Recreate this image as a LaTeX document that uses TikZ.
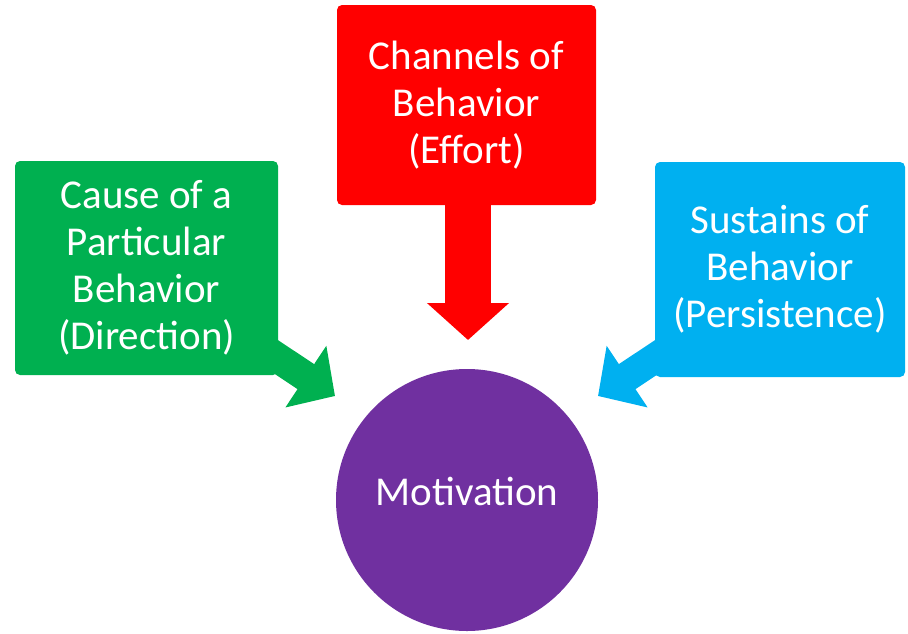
\documentclass[tikz,border=0pt]{standalone}
\usepackage{fontspec}
\setmainfont{Carlito}
\usetikzlibrary{arrows.meta}
\definecolor{ogreen}{HTML}{00B050}
\definecolor{ored}{HTML}{FF0000}
\definecolor{oblue}{HTML}{00B0F0}
\definecolor{opurple}{HTML}{7030A0}
\tikzset{
  callbox/.style={rounded corners=5pt, inner sep=0pt, text=white, align=center,
    font=\fontsize{41}{47}\selectfont},
  blockarrow/.style={line width=#1, line cap=butt},
}
\begin{document}
\begin{tikzpicture}[x=1pt,y=-1pt]
\useasboundingbox (0,0) rectangle (908,633);
% arrow coordinates
\coordinate (gs) at (256,343.5);
\coordinate (gt) at (335,396);
\coordinate (rs) at (468,200);
\coordinate (rt) at (468,340);
\coordinate (bs) at (677,343.5);
\coordinate (bt) at (598,396);
% block arrows (drawn beneath the boxes)
\draw[ogreen, blockarrow=30pt, -{Triangle[length=35pt,width=72pt]}] (gs) -- (gt);
\draw[ored, blockarrow=46pt, -{Triangle[length=37pt,width=80pt]}] (rs) -- (rt);
\draw[oblue, blockarrow=30pt, -{Triangle[length=35pt,width=72pt]}] (bs) -- (bt);
% boxes
\node[callbox, fill=ogreen, minimum width=263pt, minimum height=214pt] (cause) at (146.5,268)
  {Cause of a\\Particular\\Behavior\\(Direction)};
\node[callbox, fill=ored, minimum width=259pt, minimum height=200pt] (channels) at (466.5,105)
  {Channels of\\Behavior\\(Effort)};
\node[callbox, fill=oblue, minimum width=250pt, minimum height=215pt] (sustains) at (780,269.5)
  {Sustains of\\Behavior\\(Persistence)};
% circle
\node[circle, fill=opurple, minimum size=262pt, inner sep=0pt] (motivation) at (467,500) {};
\node[text=white, font=\fontsize{41}{47}\selectfont, inner sep=0pt] (motivtext) at (467,491) {Motivation};
\end{tikzpicture}
\end{document}
